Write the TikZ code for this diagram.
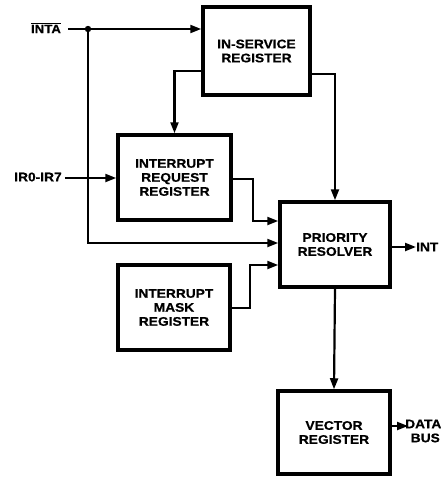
\documentclass[tikz,border=0pt]{standalone}
\usepackage{fontspec}
\newfontfamily\labfont{Liberation Sans Bold}[FakeStretch=1.1,FakeBold=0.6]
\usetikzlibrary{arrows.meta}
\begin{document}
\begin{tikzpicture}[x=1pt,y=-1pt,
  lab/.style={font=\labfont\fontsize{12.5}{14}\selectfont, align=center, inner sep=0pt},
  blk/.style={lab, draw, line width=3.5pt},
  wire/.style={line width=2.2pt},
  arr/.style={wire, -{Triangle[length=11pt,width=8pt]}}]
\useasboundingbox (0,0) rectangle (440,477);
% blocks
\node[blk, minimum width=107pt, minimum height=88pt] (ISR) at (256.5,51) {IN-SERVICE\\REGISTER};
\node[blk, minimum width=113pt, minimum height=85pt] (IRR) at (174.5,177.5) {INTERRUPT\\REQUEST\\REGISTER};
\node[blk, minimum width=112pt, minimum height=85pt] (IMR) at (174,307.5) {INTERRUPT\\MASK\\REGISTER};
\node[blk, minimum width=110pt, minimum height=85pt] (PR) at (335,244.5) {PRIORITY\\RESOLVER};
\node[blk, minimum width=112pt, minimum height=83pt] (VR) at (334,432.5) {VECTOR\\REGISTER};
% labels
\node[lab] (inta) at (46,28) {$\overline{\hbox{\labfont\fontsize{12}{14}\selectfont INTA}}$};
\node[lab] (irin) at (38,177) {IR0-IR7};
\node[lab, anchor=west] (int) at (416,247) {INT};
\node[lab, anchor=west] (data) at (405,431) {DATA\\\hspace*{4pt}BUS};
% coordinates
\coordinate (s) at (68,29);
\coordinate (J) at (88,29);
% connectors
\draw[arr] (s) -- (ISR.west |- s);
\fill (J) circle[radius=3.2pt];
\draw[arr] (J) -- (88,243) -- (PR.west |- 0,243);
\draw[arr] (ISR.west |- 0,71) -| (IRR.north);
\draw[arr] (ISR.east |- 0,74) -| (PR.north);
\draw[arr] (IRR.east |- 0,179) -| (253,221) -- (PR.west |- 0,221);
\draw[arr] (IMR.east |- 0,308) -| (250,265) -- (PR.west |- 0,265);
\draw[arr] (irin.east |- 0,178) ++(3,0) -- (IRR.west |- 0,178);
\draw[arr] (PR.south) -- (VR.north);
\draw[arr] (PR.east |- 0,247) -- (int.west);
\draw[arr] (VR.east |- 0,426) -- (408,426);
\end{tikzpicture}
\end{document}
